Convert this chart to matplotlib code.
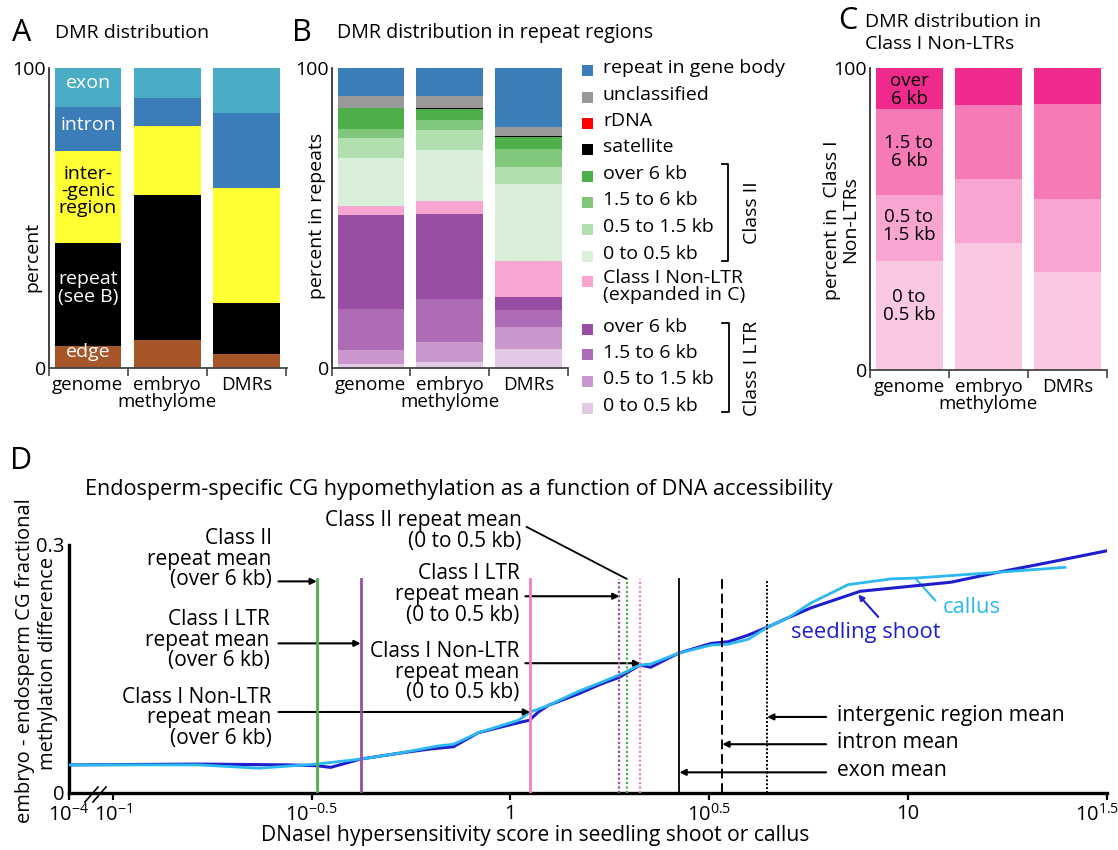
import numpy as np
import matplotlib
matplotlib.use('Agg')
import matplotlib.pyplot as plt
from matplotlib.patches import Rectangle
from matplotlib.lines import Line2D
from matplotlib.transforms import ScaledTranslation

plt.rcParams['font.family'] = ['Open Sans', 'DejaVu Sans']
plt.rcParams['mathtext.fontset'] = 'custom'
plt.rcParams['mathtext.rm'] = 'Open Sans'
plt.rcParams['mathtext.it'] = 'Open Sans:italic'
plt.rcParams['mathtext.default'] = 'regular'
plt.rcParams['font.size'] = 14

# ---- data ----
groups = ['genome', 'embryo\nmethylome', 'DMRs']

# A: DMR distribution (bottom -> top)
a_edge = [7.2, 9.4, 4.7]
a_repeat = [34.5, 48.2, 17.0]
a_intergenic = [30.7, 23.0, 38.3]
a_intron = [14.7, 9.4, 24.9]
a_exon = [12.9, 10.0, 15.1]

# B: repeat regions (bottom -> top)
ltr_0_05 = [1.4, 1.9, 6.4]
ltr_05_15 = [4.7, 6.6, 7.1]
ltr_15_6 = [13.5, 14.4, 5.9]
ltr_over6 = [31.3, 28.4, 4.1]
non_ltr = [3.0, 4.3, 12.3]
c2_0_05 = [16.2, 16.9, 25.4]
c2_05_15 = [6.5, 6.9, 5.8]
c2_15_6 = [3.2, 3.3, 6.0]
c2_over6 = [6.9, 3.7, 4.0]
satellite = [0.0, 0.4, 0.3]
rdna = [0.0, 0.0, 0.0]
unclassified = [3.9, 3.8, 2.9]
gene_body = [9.4, 9.4, 19.8]

# C: Class I Non-LTRs (bottom -> top)
n_0_05 = [36.1, 42.0, 32.3]
n_05_15 = [21.7, 21.2, 24.4]
n_15_6 = [28.6, 24.4, 31.3]
n_over6 = [13.6, 12.4, 12.0]

# D: methylation difference vs DNaseI score
shoot_x = [1e-4, 0.164, 0.277, 0.326, 0.353, 0.420, 0.523, 0.622, 0.719, 0.831,
           1.047, 1.116, 1.176, 1.245, 1.483, 1.693, 1.879, 2.121, 2.249, 2.642,
           3.199, 3.530, 3.963, 4.447, 4.992, 5.702, 7.573, 12.82, 16.82, 22.08, 31.6]
shoot_y = [0.034, 0.035, 0.034, 0.033, 0.031, 0.041, 0.048, 0.053, 0.056, 0.073,
           0.085, 0.088, 0.098, 0.106, 0.120, 0.132, 0.140, 0.155, 0.152, 0.169,
           0.181, 0.183, 0.191, 0.201, 0.212, 0.224, 0.244, 0.255, 0.267, 0.278, 0.293]
callus_x = [1e-4, 0.164, 0.233, 0.326, 0.420, 0.523, 0.659, 0.719, 0.831, 1.047,
            1.122, 1.245, 1.483, 1.693, 1.879, 2.121, 2.249, 2.642, 3.199, 3.530,
            3.963, 4.447, 4.992, 5.702, 7.063, 9.059, 10.42, 16.82, 24.79]
callus_y = [0.034, 0.034, 0.030, 0.035, 0.041, 0.048, 0.057, 0.059, 0.073, 0.088,
            0.098, 0.106, 0.123, 0.134, 0.143, 0.155, 0.156, 0.169, 0.179, 0.180,
            0.186, 0.201, 0.212, 0.230, 0.252, 0.259, 0.260, 0.267, 0.273]

# region means (DNaseI score)
mean_x = [0.326, 0.420, 1.12, 1.88, 1.96, 2.12, 2.66, 3.41, 4.42]
mean_top = 0.259

W, H = 1118, 850
fig = plt.figure(figsize=(W / 100, H / 100), dpi=100)


def px_axes(l, t, r, b):
    return fig.add_axes([l / W, 1 - b / H, (r - l) / W, (b - t) / H])


def ftext(x, y, s, **kw):
    return fig.text(x / W, 1 - y / H, s, **kw)


def fline(xs, ys, **kw):
    fig.add_artist(Line2D([x / W for x in xs], [1 - y / H for y in ys],
                          transform=fig.transFigure, **kw))


def bar_panel(ax, stacks, colors, xlim):
    bottom = np.zeros(3)
    for vals, c in zip(stacks, colors):
        ax.bar(range(3), vals, bottom=bottom, width=0.84, color=c, linewidth=0)
        bottom += np.array(vals)
    ax.set_xlim(*xlim)
    ax.set_ylim(0, 100)
    for s in ['top', 'right']:
        ax.spines[s].set_visible(False)
    ax.spines['left'].set_color('#333333')
    ax.spines['bottom'].set_color('#444444')
    ax.spines['left'].set_linewidth(1.3)
    ax.spines['bottom'].set_linewidth(1.3)
    ax.set_xticks(range(3))
    ax.set_xticklabels(groups, linespacing=0.9, fontsize=13.5)
    ax.set_xticks([xlim[0], 0.5, 1.5, 2.5], minor=True)
    ax.tick_params(axis='x', which='major', length=0, pad=6)
    ax.tick_params(axis='x', which='minor', length=6, width=1.2, color='#444444')
    ax.set_yticks([0, 100])
    ax.tick_params(axis='y', length=0, pad=2)


# ---- A ----
axA = px_axes(49, 68, 287, 368)
bar_panel(axA, [a_edge, a_repeat, a_intergenic, a_intron, a_exon],
          ['#A65628', 'black', '#FFFF33', '#3A7DB9', '#4BACC6'], (-0.49, 2.51))
ftext(12, 33, 'A', fontsize=22, va='center')
ftext(55, 33, 'DMR distribution', va='center')
ftext(32, 257, 'percent', rotation=90, ha='center', va='center')
for y, s, c in [(83, 'exon', 'white'), (125, 'intron', 'white'),
                (191, 'inter-\n-genic\nregion', 'black'),
                (288, 'repeat\n(see B)', 'white'), (352, 'edge', 'white')]:
    ftext(88, y, s, color=c, ha='center', va='center', linespacing=0.95)

# ---- B ----
axB = px_axes(332, 68, 568, 368)
b_stacks = [ltr_0_05, ltr_05_15, ltr_15_6, ltr_over6, non_ltr,
            c2_0_05, c2_05_15, c2_15_6, c2_over6, satellite, rdna,
            unclassified, gene_body]
b_colors = ['#E2C9E5', '#C996CE', '#AF6CB6', '#984EA3', '#F8A6D1',
            '#DAEFD9', '#B2DFB0', '#80C77C', '#4DAF4A', 'black', '#FF0000',
            '#999999', '#3A7DB9']
bar_panel(axB, b_stacks, b_colors, (-0.49, 2.49))
ftext(292, 33, 'B', fontsize=22, va='center')
ftext(337, 33, 'DMR distribution in repeat regions', va='center', fontsize=14.2)
ftext(317, 216, 'percent in repeats', rotation=90, ha='center', va='center')

# legend for B (top -> bottom)
leg_labels = ['repeat in gene body', 'unclassified', 'rDNA', 'satellite',
              'over 6 kb', '1.5 to 6 kb', '0.5 to 1.5 kb', '0 to 0.5 kb',
              'Class I Non-LTR\n(expanded in C)',
              'over 6 kb', '1.5 to 6 kb', '0.5 to 1.5 kb', '0 to 0.5 kb']
leg_colors = b_colors[::-1]
leg_y = [70, 97, 123, 149, 176, 202, 229, 256, 281, 329, 355, 381, 408]
for lab, col, y in zip(leg_labels, leg_colors, leg_y):
    fig.add_artist(Rectangle(((587 - 5.5) / W, 1 - (y + 5.5) / H), 11 / W, 11 / H,
                             transform=fig.transFigure, color=col, lw=0))
    if '\n' in lab:
        ftext(603, y - 12, lab, va='top', linespacing=0.9)
    else:
        ftext(603, y - 2, lab, va='center')
fline([722, 728, 728, 722], [164, 164, 261, 261], color='black', lw=1.3)
fline([722, 729, 729, 722], [323, 323, 412, 412], color='black', lw=1.3)
ftext(752, 213, 'Class II', rotation=90, ha='center', va='center')
ftext(752, 368, 'Class I LTR', rotation=90, ha='center', va='center')

# ---- C ----
axC = px_axes(870, 68, 1107, 370)
bar_panel(axC, [n_0_05, n_05_15, n_15_6, n_over6],
          ['#FBC8E3', '#F8A6D1', '#F57AB6', '#EF2A8C'], (-0.5, 2.48))
ftext(838, 21, 'C', fontsize=22, va='center')
ftext(865, 22, 'DMR distribution in', va='center')
ftext(865, 44, 'Class I Non-LTRs', va='center')
ftext(841, 220, 'percent in  Class I\nNon-LTRs', rotation=90, ha='center',
      va='center', linespacing=1.0)
for y, s in [(90, 'over\n6 kb'), (152, '1.5 to\n6 kb'), (226, '0.5 to\n1.5 kb'),
             (306, '0 to\n0.5 kb')]:
    ftext(909, y, s, ha='center', va='center', linespacing=1.05, fontsize=13.5)

# ---- D ----
x_min = 10 ** -1.11
axD = px_axes(69, 545, 1107, 793)
axD.set_xscale('log')
axD.set_xlim(x_min, 10 ** 1.5)
axD.set_ylim(0, 0.3)
for s in ['top', 'right']:
    axD.spines[s].set_visible(False)
for s in ['left', 'bottom']:
    axD.spines[s].set_linewidth(2.4)
    axD.spines[s].set_color('black')

axD.plot(np.maximum(shoot_x, x_min), shoot_y, color='#1E1ECC', lw=2.2, zorder=3)
axD.plot(np.maximum(callus_x, x_min), callus_y, color='#2CB9F2', lw=2.0, zorder=3)

mean_colors = ['#4DAF4A', '#984EA3', '#F47FBE', '#984EA3', '#4DAF4A', '#F47FBE',
               'black', 'black', 'black']
mean_styles = ['-', '-', '-', (0, (1, 1)), (0, (1, 1)), (0, (1, 1)), '-',
               (0, (5, 2.5)), (0, (1, 1))]
mean_widths = [2.0, 2.0, 2.0, 1.6, 1.6, 1.6, 1.3, 1.4, 1.4]
for x, c, ls, lw in zip(mean_x, mean_colors, mean_styles, mean_widths):
    axD.plot([x, x], [0, mean_top], color=c, ls=ls, lw=lw, zorder=5)

axD.set_xticks([x_min, 0.1, 10 ** -0.5, 1, 10 ** 0.5, 10, 10 ** 1.5])
axD.set_xticklabels(['$10^{-4}$', '$10^{-1}$', '$10^{-0.5}$', '1', '$10^{0.5}$',
                     '10', '$10^{1.5}$'], fontsize=14.5)
axD.xaxis.set_minor_locator(matplotlib.ticker.NullLocator())
axD.tick_params(axis='x', length=5, width=1.6, pad=3)
last = axD.get_xticklabels()[-1]
last.set_transform(last.get_transform() + ScaledTranslation(-0.1, 0, fig.dpi_scale_trans))
axD.set_yticks([0, 0.3])
axD.set_yticklabels(['0', '0.3'], fontsize=14.5)
axD.tick_params(axis='y', length=0, pad=3)

# axis break
for x0 in [85, 93]:
    fline([x0, x0 + 13], [802, 787], color='black', lw=1.2)

ftext(10, 461, 'D', fontsize=22, va='center')
ftext(85, 489, 'Endosperm-specific CG hypomethylation as a function of DNA accessibility',
      va='center', fontsize=15.6)
ftext(25, 661, 'embryo - endosperm CG fractional', rotation=90, ha='center',
      va='center', fontsize=14.5)
ftext(48, 663, 'methylation difference', rotation=90, ha='center', va='center',
      fontsize=14.5)
ftext(535, 835, 'DNaseI hypersensitivity score in seedling shoot or callus',
      ha='center', va='center', fontsize=15.2)

arrow = dict(arrowstyle='-|>', color='black', lw=1.5, mutation_scale=9,
             shrinkA=0, shrinkB=0)
txt = dict(ha='right', va='center', linespacing=0.98, clip_on=False, fontsize=15)

# left labels (over 6 kb)
axD.text(0.251, 0.283, 'Class II\nrepeat mean\n(over 6 kb)', **txt)
axD.annotate('', xy=(mean_x[0], 0.256), xytext=(0.261, 0.256), arrowprops=arrow)
axD.text(0.248, 0.185, 'Class I LTR\nrepeat mean\n(over 6 kb)', **txt)
axD.annotate('', xy=(mean_x[1], 0.181), xytext=(0.261, 0.181), arrowprops=arrow)
axD.text(0.251, 0.091, 'Class I Non-LTR\nrepeat mean\n(over 6 kb)', **txt)
axD.annotate('', xy=(mean_x[2], 0.098), xytext=(0.261, 0.098), arrowprops=arrow)

# middle labels (0 to 0.5 kb)
axD.text(1.066, 0.317, 'Class II repeat mean\n(0 to 0.5 kb)', **txt)
axD.annotate('', xy=(mean_x[4], mean_top), xytext=(1.097, 0.322),
             arrowprops=dict(arrowstyle='-', color='black', lw=1.3,
                             shrinkA=0, shrinkB=0))
axD.text(1.053, 0.240, 'Class I LTR\nrepeat mean\n(0 to 0.5 kb)', **txt)
axD.annotate('', xy=(mean_x[3], 0.238), xytext=(1.09, 0.238), arrowprops=arrow)
axD.text(1.053, 0.146, 'Class I Non-LTR\nrepeat mean\n(0 to 0.5 kb)', **txt)
axD.annotate('', xy=(mean_x[5], 0.157), xytext=(1.09, 0.157), arrowprops=arrow)

# right labels (gene regions)
for y, s, xm in [(0.092, 'intergenic region mean', mean_x[8]),
                 (0.059, 'intron mean', mean_x[7]),
                 (0.025, 'exon mean', mean_x[6])]:
    axD.text(6.63, y + 0.002, s, ha='left', va='center', fontsize=15.2)
    axD.annotate('', xy=(xm, y), xytext=(6.22, y), arrowprops=arrow)

# curve labels
axD.text(5.08, 0.194, 'seedling shoot', color='#1E1ECC', ha='left', va='center',
         fontsize=15.8)
axD.annotate('', xy=(7.49, 0.240), xytext=(8.41, 0.213),
             arrowprops=dict(arrowstyle='-|>', color='#1E1ECC', lw=1.5,
                             mutation_scale=8, shrinkA=0, shrinkB=0))
axD.text(12.24, 0.224, 'callus', color='#2CB9F2', ha='left', va='center',
         fontsize=15.8)
axD.plot([11.69, 10.42], [0.233, 0.260], color='#2CB9F2', lw=1.5)

fig.savefig('out.png', dpi=100)
